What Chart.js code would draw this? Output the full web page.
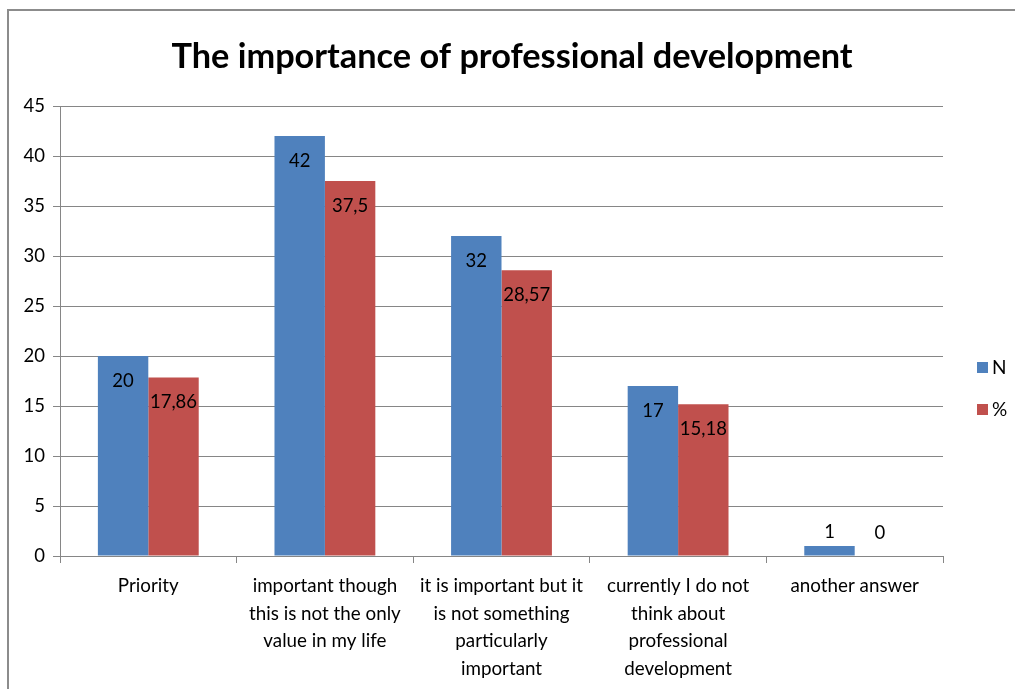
<!DOCTYPE html>
<html>
<head>
<meta charset="utf-8">
<script src="https://cdn.jsdelivr.net/npm/chart.js@4/dist/chart.umd.min.js"></script>
<style>
  body { margin: 0; background: #fff; }
  canvas { display: block; }
</style>
</head>
<body>
<canvas id="chart" width="1015" height="689"></canvas>
<script>
const categories = [
    'Priority',
    ['important though', 'this is not the only', 'value in my life'],
    ['it is important but it', 'is not something', 'particularly', 'important'],
    ['currently I do not', 'think about', 'professional', 'development'],
    'another answer'
];
const valuesN = [20, 42, 32, 17, 1];
const valuesPct = [17.86, 37.5, 28.57, 15.18, 0];
const yTicks = [0, 5, 10, 15, 20, 25, 30, 35, 40, 45];

const FONT = 'Lato, "Open Sans", sans-serif';
const GRID = '#868686';
const BLUE = '#4F81BD';
const RED = '#C0504D';

// frame, title, legend and value labels
const decorations = {
    id: 'decorations',
    beforeDraw(chart) {
        const ctx = chart.ctx;
        ctx.save();
        ctx.strokeStyle = '#8c8c8c';
        ctx.lineWidth = 2;
        ctx.beginPath();
        ctx.moveTo(8, 689);
        ctx.lineTo(8, 10);
        ctx.lineTo(1015, 10);
        ctx.stroke();
        ctx.restore();
    },
    afterDatasetsDraw(chart) {
        const ctx = chart.ctx;
        ctx.save();
        ctx.font = '18.5px ' + FONT;
        ctx.fillStyle = '#000';
        ctx.textAlign = 'center';
        ctx.textBaseline = 'middle';
        chart.data.datasets.forEach((ds, i) => {
            chart.getDatasetMeta(i).data.forEach((bar, j) => {
                const text = String(ds.data[j]).replace('.', ',');
                const y = (bar.base - bar.y > 35) ? bar.y + 25 : bar.base - 23;
                ctx.fillText(text, bar.x, y);
            });
        });
        ctx.restore();
    },
    afterDraw(chart) {
        const ctx = chart.ctx;
        ctx.save();
        ctx.fillStyle = '#000';
        ctx.font = 'bold 34.3px ' + FONT;
        ctx.textAlign = 'center';
        ctx.textBaseline = 'alphabetic';
        ctx.fillText('The importance of professional development', 512, 68);

        ctx.font = '19px ' + FONT;
        ctx.textAlign = 'left';
        ctx.textBaseline = 'middle';
        chart.data.datasets.forEach((ds, i) => {
            const y = 368 + i * 42;
            ctx.fillStyle = ds.backgroundColor;
            ctx.fillRect(977, y - 6, 11, 11);
            ctx.fillStyle = '#000';
            ctx.fillText(ds.label, 992, y);
        });
        ctx.restore();
    }
};

new Chart(document.querySelector('#chart').getContext('2d'), {
    type: 'bar',
    data: {
        labels: categories,
        datasets: [
            { label: 'N', data: valuesN, backgroundColor: BLUE },
            { label: '%', data: valuesPct, backgroundColor: RED }
        ]
    },
    options: {
        responsive: false,
        animation: false,
        layout: { padding: { top: 106, right: 72, bottom: 0, left: 0 } },
        datasets: { bar: { barPercentage: 1, categoryPercentage: 0.571 } },
        plugins: {
            legend: { display: false },
            title: { display: false },
            tooltip: { enabled: false }
        },
        scales: {
            x: {
                offset: true,
                grid: { drawOnChartArea: false, color: GRID, tickLength: 7, offset: true },
                border: { color: GRID },
                ticks: {
                    color: '#000',
                    font: { family: FONT, size: 18.8, lineHeight: 1.47 },
                    padding: 9,
                    maxRotation: 0,
                    autoSkip: false
                },
                afterFit(scale) { scale.height = 133; }
            },
            y: {
                min: 0,
                max: 45,
                afterBuildTicks(scale) { scale.ticks = yTicks.map(v => ({ value: v })); },
                grid: { color: GRID, tickLength: 7 },
                border: { color: GRID },
                ticks: {
                    color: '#000',
                    font: { family: FONT, size: 18.5 },
                    padding: 8
                },
                afterFit(scale) { scale.width = 60; }
            }
        }
    },
    plugins: [decorations]
});
</script>
</body>
</html>
